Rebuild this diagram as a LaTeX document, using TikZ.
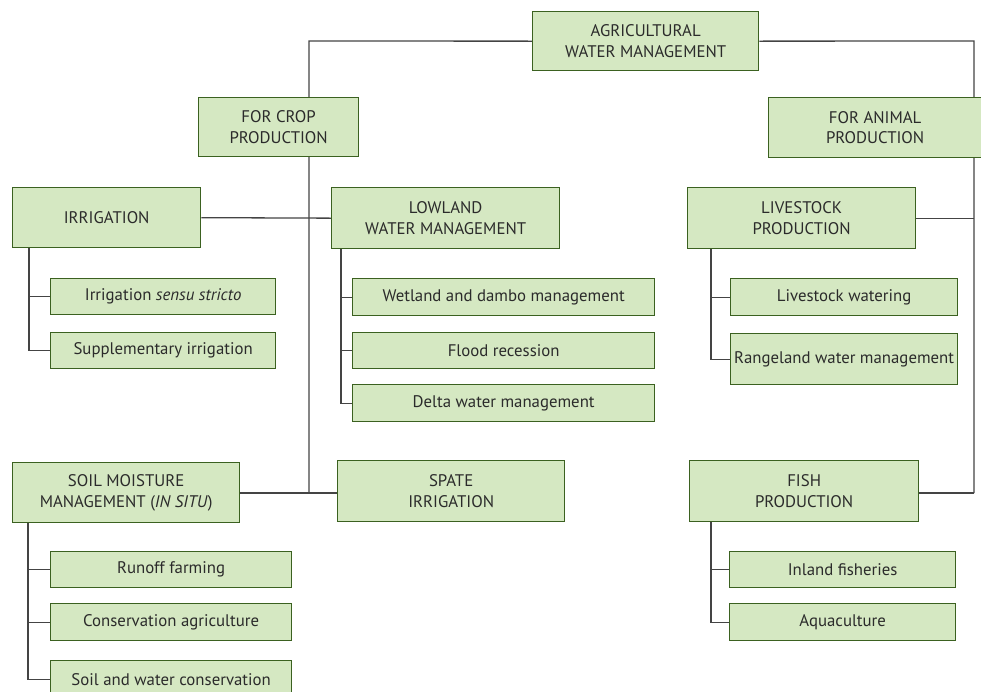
\documentclass[tikz,border=0pt]{standalone}
\usepackage{fontspec}
\setmainfont{PT Sans}
\usetikzlibrary{backgrounds}
\definecolor{boxfill}{HTML}{D5E8C2}
\definecolor{boxline}{HTML}{3B6120}
\definecolor{conn}{HTML}{444444}
\definecolor{txt}{HTML}{2B2B2B}
\tikzset{
  box/.style={draw=boxline, fill=boxfill, line width=1.3pt, anchor=north west,
    inner sep=0pt, align=center, text=txt, font=\fontsize{16.8}{20.7}\selectfont},
  conline/.style={draw=conn, line width=1.3pt},
}
\newcommand{\bx}[6]{\node[box, minimum width=#4, minimum height=#5] (#1) at (#2,#3) {#6};}
\begin{document}
\begin{tikzpicture}[x=1pt,y=-1pt]
\useasboundingbox (0,0) rectangle (981,691);
\clip (0,0) rectangle (981,691);
% top
\bx{agri}{532}{11}{226}{59}{AGRICULTURAL\\WATER MANAGEMENT}
\bx{crop}{198}{97}{160}{59}{FOR CROP\\PRODUCTION}
\bx{animal}{768}{97}{213}{60}{FOR ANIMAL\\PRODUCTION}
% crop side
\bx{irr}{12}{187}{188}{60}{IRRIGATION}
\bx{low}{331}{187}{228}{61}{LOWLAND\\WATER MANAGEMENT}
\bx{sensu}{50}{278}{225}{36}{Irrigation \textit{sensu stricto}}
\bx{supp}{50}{332}{225}{36}{Supplementary irrigation}
\bx{wet}{352}{278}{302}{37}{Wetland and dambo management}
\bx{flood}{352}{332}{302}{36}{Flood recession}
\bx{delta}{352}{384}{302}{37}{Delta water management}
\bx{soil}{12}{462}{227}{60}{SOIL MOISTURE\\MANAGEMENT (\textit{IN SITU})}
\bx{spate}{337}{460}{227}{61}{SPATE\\IRRIGATION}
\bx{runoff}{50}{551}{241}{36}{Runoff farming}
\bx{cons}{50}{603}{241}{37}{Conservation agriculture}
\bx{swc}{50}{660}{241}{37}{Soil and water conservation}
% animal side
\bx{live}{687}{187}{228}{61}{LIVESTOCK\\PRODUCTION}
\bx{water}{730}{278}{227}{37}{Livestock watering}
\bx{range}{730}{333}{227}{51}{Rangeland water management}
\bx{fish}{689}{460}{229}{61}{FISH\\PRODUCTION}
\bx{inland}{729}{551}{226}{36}{Inland fisheries}
\bx{aqua}{729}{603}{226}{37}{Aquaculture}
% bus coordinates
\coordinate (ltop) at (309,41);
\coordinate (lbot) at (309,493);
\coordinate (rtop) at (974,41);
\coordinate (rbot) at (974,493);
\coordinate (irrbus) at (29,247);
\coordinate (lowbus) at (341,248);
\coordinate (soilbus) at (28,522);
\coordinate (livebus) at (711,248);
\coordinate (fishbus) at (711,521);
\begin{scope}[on background layer]
\draw[conline] (agri.west) -- (ltop) -- (lbot);
\draw[conline] (agri.east) -- (rtop) -- (rbot);
\draw[conline] (irr.east) -- (low.west);
\draw[conline] (soil.east |- lbot) -- (spate.west |- lbot);
\draw[conline] (live.east) -- (live.east -| rtop);
\draw[conline] (fish.east |- rbot) -- (rbot);
\draw[conline] (irrbus) |- (supp.west);
\draw[conline] (irrbus |- sensu.west) -- (sensu.west);
\draw[conline] (lowbus) |- (delta.west);
\draw[conline] (lowbus |- wet.west) -- (wet.west);
\draw[conline] (lowbus |- flood.west) -- (flood.west);
\draw[conline] (soilbus) |- (swc.west);
\draw[conline] (soilbus |- runoff.west) -- (runoff.west);
\draw[conline] (soilbus |- cons.west) -- (cons.west);
\draw[conline] (livebus) |- (range.west);
\draw[conline] (livebus |- water.west) -- (water.west);
\draw[conline] (fishbus) |- (aqua.west);
\draw[conline] (fishbus |- inland.west) -- (inland.west);
\end{scope}
\end{tikzpicture}
\end{document}
